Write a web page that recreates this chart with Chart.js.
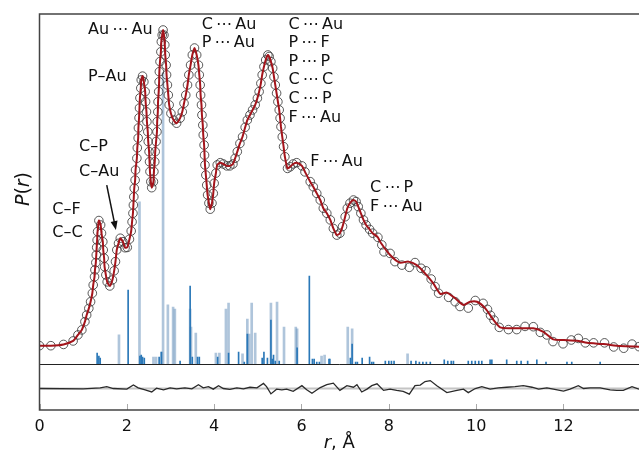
<!DOCTYPE html>
<html lang="en">
<head>
<meta charset="UTF-8" />
<title>P(r)</title>
<script src="https://cdn.jsdelivr.net/npm/chart.js"></script>
<style>
  html, body { margin: 0; padding: 0; background: #fff; }
  #wrap { width: 639px; height: 455px; }
</style>
</head>
<body>
<div id="wrap"><canvas id="pdf"></canvas></div>
<script>
// experimental P(r), circles (r in Å, P in arbitrary units)
const obsR = [0.00,0.26,0.55,0.77,0.88,0.97,1.04,1.08,1.13,1.17,1.21,1.23,1.26,1.27,1.29,1.30,1.31,1.32,1.33,1.36,
  1.40,1.42,1.45,1.46,1.48,1.49,1.52,1.55,1.61,1.67,1.71,1.74,1.77,1.81,1.85,1.91,1.96,2.01,2.06,2.10,
  2.12,2.14,2.15,2.16,2.17,2.19,2.20,2.23,2.24,2.26,2.265,2.28,2.29,2.30,2.32,2.33,2.36,2.39,2.42,2.43,
  2.45,2.46,2.48,2.49,2.51,2.52,2.53,2.55,2.57,2.61,2.62,2.64,2.65,2.67,2.69,2.695,2.71,2.715,2.73,2.74,
  2.745,2.76,2.78,2.79,2.81,2.83,2.85,2.87,2.88,2.90,2.91,2.93,2.95,2.97,3.01,3.07,3.14,3.22,3.27,3.31,
  3.35,3.39,3.42,3.46,3.50,3.55,3.60,3.64,3.66,3.68,3.69,3.71,3.72,3.74,3.75,3.77,3.78,3.79,3.81,3.83,
  3.85,3.88,3.91,3.95,3.98,4.00,4.04,4.07,4.14,4.21,4.29,4.36,4.43,4.48,4.53,4.59,4.65,4.71,4.76,4.82,
  4.88,4.94,4.99,5.03,5.07,5.10,5.14,5.18,5.23,5.26,5.30,5.34,5.37,5.40,5.43,5.46,5.49,5.51,5.53,5.56,
  5.59,5.62,5.68,5.74,5.81,5.89,6.01,6.08,6.20,6.27,6.35,6.43,6.50,6.58,6.66,6.73,6.81,6.88,6.94,7.00,
  7.05,7.11,7.19,7.25,7.30,7.36,7.42,7.48,7.56,7.63,7.75,7.84,7.89,8.03,8.14,8.30,8.47,8.60,8.74,8.85,
  8.97,9.06,9.14,9.37,9.52,9.63,9.82,9.98,10.16,10.26,10.33,10.41,10.53,10.74,10.93,11.12,11.31,11.47,11.62,11.76,
  11.99,12.18,12.34,12.50,12.69,12.94,13.15,13.38,13.57,13.73];
const obsP = [0.1,0.1,0.5,1.6,3.5,5.1,7.7,9.8,11.9,14.0,16.7,19.3,21.9,24.1,26.4,28.8,31.2,33.5,36.2,39.7,
  38.3,35.7,33.0,30.4,27.8,25.1,22.5,20.3,19.0,20.9,23.8,26.7,30.4,32.5,34.1,33.0,31.1,31.2,33.8,36.4,
  39.3,42.0,44.6,47.2,49.9,52.5,55.7,59.4,62.7,65.8,69.0,72.2,75.3,78.5,81.6,84.2,85.4,83.6,80.5,77.3,
  74.1,71.0,67.8,64.7,61.5,58.3,55.2,52.0,50.1,52.0,55.2,58.3,61.5,64.7,67.8,71.0,74.1,77.3,80.5,83.6,
  86.8,90.0,93.1,96.3,98.4,100.0,98.4,95.3,92.1,88.9,85.8,82.6,79.4,76.3,73.6,71.5,70.5,72.1,74.1,76.8,
  79.4,82.6,85.8,88.9,92.1,94.3,92.1,88.9,85.8,82.6,79.4,76.3,73.1,69.9,66.8,63.6,60.4,57.3,54.1,50.9,
  47.8,45.2,43.3,45.2,48.3,51.5,54.7,57.3,58.0,57.6,57.0,57.0,57.6,59.4,61.5,64.1,66.2,69.2,71.5,73.1,
  74.7,76.3,78.4,80.5,83.1,85.8,88.4,90.5,92.1,91.6,90.0,87.9,85.2,82.6,80.0,77.3,74.7,72.1,69.4,66.2,
  63.1,59.9,56.2,56.7,57.6,58.0,57.0,55.1,52.0,50.4,48.3,46.2,43.6,42.0,39.9,37.2,35.1,35.7,37.8,40.9,
  43.6,45.2,46.2,45.7,44.1,42.0,39.9,38.3,36.9,35.7,34.4,32.0,29.8,29.3,26.7,25.6,24.9,26.4,24.6,23.8,
  21.2,18.8,16.7,15.4,14.0,12.5,12.0,14.4,13.5,11.6,9.7,8.2,5.9,5.2,5.2,6.2,6.1,4.3,3.5,1.4,
  0.7,1.9,2.4,1.0,1.0,1.0,-0.3,-0.7,0.6,-0.2];

// fitted curve past 7.8 Å (below that it runs through the data points)
const fitTailR = [7.80,8.03,8.25,8.45,8.64,8.83,9.02,9.18,9.33,9.52,9.71,9.86,10.02,10.21,10.40,10.55,10.78,11.01,11.31,11.54,
  11.77,12.00,12.31,12.54,12.92,13.30,13.73];
const fitTailP = [33.0,28.8,26.4,26.7,25.6,23.0,19.8,16.5,16.9,15.1,13.0,14.0,14.0,11.9,8.2,5.9,5.6,5.6,5.6,4.5,
  2.1,1.9,1.7,1.0,0.6,0.0,-0.2];

// difference curve (data - fit)
const diffR = [0.00,1.00,1.39,1.54,1.69,2.00,2.15,2.26,2.42,2.57,2.68,2.84,2.99,3.14,3.33,3.49,3.64,3.75,3.87,3.98,
  4.10,4.21,4.36,4.52,4.67,4.82,4.98,5.13,5.20,5.30,5.43,5.55,5.66,5.81,6.01,6.12,6.24,6.43,6.58,6.73,
  6.88,7.04,7.19,7.27,7.38,7.50,7.61,7.73,7.88,8.03,8.18,8.33,8.47,8.60,8.72,8.83,8.95,9.10,9.33,9.56,
  9.71,9.82,9.98,10.13,10.32,10.51,10.70,10.89,11.08,11.28,11.43,11.62,11.77,12.00,12.15,12.34,12.46,12.61,12.84,13.07,
  13.22,13.37,13.57,13.73];
const diffD = [0,-0.1,0.2,0.6,0,-0.2,1.1,0.2,-0.4,-1.1,0.1,-0.4,0.2,-0.1,0.2,-0.1,1.2,0.2,0.6,-0.2,
  0.9,0,-0.3,0.2,-0.1,0.4,0.2,1.6,0.6,-1.7,-0.2,-0.4,-0.2,-0.9,0.9,-0.4,-1.5,0.3,1.2,1.7,
  -0.6,0.9,0.4,1.2,-1.1,-0.2,0.9,1.5,-0.6,-0.2,-0.6,-0.9,-1.8,0.9,1.1,2.2,2.5,0.9,-1.3,-0.6,
  -0.2,-1.3,0,0.6,-0.2,0.2,0.4,0.6,0.9,0.4,-0.2,0.2,-0.2,-0.8,-0.2,0.9,0,0.2,0.2,-0.4,
  -0.6,-0.6,0.6,-0.2];

// interatomic distance sticks
const lightR = [1.82,2.29,2.61,2.67,2.80,2.83,2.94,3.06,3.10,3.45,3.47,3.58,4.04,4.12,4.27,4.33,4.65,4.76,4.80,4.86,
  4.94,5.30,5.44,5.60,5.87,5.90,6.46,6.53,7.06,7.16,8.43];
const lightH = [9.2,51.3,2.2,2.2,3.8,92.1,18.7,18.0,17.4,17.4,11.7,9.8,3.5,3.5,17.4,19.3,3.2,14.2,9.5,19.3,
  9.8,19.3,19.6,11.7,11.7,11.1,2.5,2.8,11.7,11.1,3.2];
const darkR = [1.32,1.36,1.39,2.03,2.30,2.33,2.36,2.40,2.74,2.79,3.22,3.45,3.50,3.62,3.66,4.08,4.33,4.56,4.69,4.76,
  5.10,5.14,5.22,5.30,5.33,5.36,5.40,5.49,5.90,6.18,6.25,6.29,6.35,6.41,6.63,6.65,7.12,7.16,7.24,7.28,
  7.39,7.56,7.61,7.65,7.92,8.00,8.06,8.12,8.51,8.62,8.70,8.78,8.86,8.95,9.27,9.35,9.43,9.48,9.82,9.90,
  9.98,10.06,10.13,10.32,10.36,10.70,10.93,11.03,11.18,11.39,11.60,12.08,12.19,12.84];
const darkH = [3.5,2.5,1.9,23.4,2.5,2.8,2.2,1.9,2.2,3.8,0.9,24.7,2.2,2.2,2.2,2.2,3.5,3.8,0.6,9.5,
  1.9,3.8,1.9,13.9,1.6,2.8,0.9,0.9,5.1,27.8,1.6,1.6,0.6,0.6,1.6,1.6,1.9,6.3,0.6,0.6,
  1.9,2.2,0.6,0.6,0.9,0.9,0.9,0.9,0.9,0.9,0.6,0.6,0.6,0.6,1.3,0.9,0.9,0.9,0.9,0.9,
  0.9,0.9,0.9,1.3,1.3,1.3,0.9,0.9,0.9,1.3,0.6,0.6,0.6,0.6];

const xTicks = [0, 2, 4, 6, 8, 10, 12];
const R_MAX = 13.73;
const SEP = -5.7; // value on the main scale where the difference panel starts

const FONT = '"DejaVu Sans", "Liberation Sans", sans-serif';

// peak assignments: text, left edge r, vertical centre P
const notes = [
  ['Au\u2009\u22EF\u2009Au', 1.11, 100.0],
  ['P\u2013Au', 1.11, 85.1],
  ['C\u2013P', 0.905, 63.0],
  ['C\u2013Au', 0.905, 55.1],
  ['C\u2013F', 0.293, 43.0],
  ['C\u2013C', 0.293, 35.8],
  ['C\u2009\u22EF\u2009Au', 3.716, 101.6],
  ['P\u2009\u22EF\u2009Au', 3.716, 95.8],
  ['C\u2009\u22EF\u2009Au', 5.70, 101.6],
  ['P\u2009\u22EF\u2009F', 5.70, 95.8],
  ['P\u2009\u22EF\u2009P', 5.70, 90.0],
  ['C\u2009\u22EF\u2009C', 5.70, 84.2],
  ['C\u2009\u22EF\u2009P', 5.70, 78.1],
  ['F\u2009\u22EF\u2009Au', 5.70, 72.1],
  ['F\u2009\u22EF\u2009Au', 6.20, 58.3],
  ['C\u2009\u22EF\u2009P', 7.57, 49.9],
  ['F\u2009\u22EF\u2009Au', 7.57, 44.1]
];

const zip = (xs, ys) => xs.map((v, i) => ({ x: v, y: ys[i] }));
const sticks = (xs, hs) => xs.map((v, i) => ({ x: v, y: [SEP, SEP + hs[i]] }));

const fitPts = zip(obsR, obsP).filter(p => p.x < 7.78).concat(zip(fitTailR, fitTailP));

function mixedText(ctx, parts, cx, cy, size) {
  const fonts = parts.map(p => (p[1] ? 'italic ' : '') + size + 'px ' + FONT);
  let w = 0;
  parts.forEach((p, i) => { ctx.font = fonts[i]; w += ctx.measureText(p[0]).width; });
  let x = cx - w / 2;
  ctx.textAlign = 'left';
  ctx.textBaseline = 'middle';
  parts.forEach((p, i) => { ctx.font = fonts[i]; ctx.fillText(p[0], x, cy); x += ctx.measureText(p[0]).width; });
}

const frame = {
  id: 'frame',
  afterDatasetsDraw(chart) {
    const { ctx, chartArea: a, scales: { x, y } } = chart;
    ctx.save();
    // panel divider
    const ys = Math.round(y.getPixelForValue(SEP)) + 0.5;
    ctx.strokeStyle = '#222';
    ctx.lineWidth = 1;
    ctx.beginPath(); ctx.moveTo(a.left, ys); ctx.lineTo(a.right, ys); ctx.stroke();
    // inward ticks on the bottom axis
    ctx.strokeStyle = '#aaa';
    xTicks.forEach(t => {
      const px = Math.round(x.getPixelForValue(t)) + 0.5;
      ctx.beginPath(); ctx.moveTo(px, a.bottom); ctx.lineTo(px, a.bottom - 6); ctx.stroke();
    });
    // box
    ctx.strokeStyle = '#444';
    ctx.lineWidth = 1.5;
    ctx.beginPath();
    ctx.moveTo(a.right, a.top); ctx.lineTo(a.left, a.top);
    ctx.lineTo(a.left, a.bottom); ctx.lineTo(a.right, a.bottom);
    ctx.stroke();
    ctx.restore();
  },
  afterDraw(chart) {
    const { ctx, chartArea: a, scales: { x, y } } = chart;
    ctx.save();
    ctx.fillStyle = '#111';
    ctx.font = '16px ' + FONT;
    ctx.textAlign = 'left';
    ctx.textBaseline = 'middle';
    notes.forEach(([t, r, p]) => ctx.fillText(t, x.getPixelForValue(r), y.getPixelForValue(p)));

    // arrow to the C–P / C–Au shoulder
    const x0 = x.getPixelForValue(1.54), y0 = y.getPixelForValue(50.9);
    const x1 = x.getPixelForValue(1.75), y1 = y.getPixelForValue(36.7);
    const ang = Math.atan2(y1 - y0, x1 - x0);
    ctx.strokeStyle = '#111';
    ctx.lineWidth = 1.5;
    ctx.beginPath();
    ctx.moveTo(x0, y0);
    ctx.lineTo(x1 - 6 * Math.cos(ang), y1 - 6 * Math.sin(ang));
    ctx.stroke();
    ctx.beginPath();
    ctx.moveTo(x1, y1);
    ctx.lineTo(x1 - 9 * Math.cos(ang) + 3.5 * Math.sin(ang), y1 - 9 * Math.sin(ang) - 3.5 * Math.cos(ang));
    ctx.lineTo(x1 - 9 * Math.cos(ang) - 3.5 * Math.sin(ang), y1 - 9 * Math.sin(ang) + 3.5 * Math.cos(ang));
    ctx.closePath();
    ctx.fill();

    // axis titles
    mixedText(ctx, [['r', true], [', \u00C5', false]], (a.left + a.right) / 2, 443, 18);
    ctx.translate(24, (a.top + y.getPixelForValue(SEP)) / 2);
    ctx.rotate(-Math.PI / 2);
    mixedText(ctx, [['P', true], ['(', false], ['r', true], [')', false]], 0, 0, 19);
    ctx.restore();
  }
};

new Chart(document.getElementById('pdf'), {
  type: 'line',
  data: {
    datasets: [
      {
        label: 'fit',
        data: fitPts,
        borderColor: '#a3141b',
        borderWidth: 2,
        pointRadius: 0,
        tension: 0.2,
        yAxisID: 'y',
        order: 0
      },
      {
        label: 'data',
        data: zip(obsR, obsP),
        showLine: false,
        pointRadius: 4.3,
        pointStyle: 'circle',
        pointBorderColor: 'rgba(60,60,60,0.85)',
        pointBackgroundColor: 'rgba(255,255,255,0)',
        pointBorderWidth: 1,
        yAxisID: 'y',
        order: 1
      },
      {
        label: 'difference',
        data: zip(diffR, diffD),
        borderColor: '#2a2a2a',
        borderWidth: 1.3,
        pointRadius: 0,
        tension: 0,
        yAxisID: 'yd',
        order: 2
      },
      {
        label: 'zero',
        data: [{ x: 0, y: 0 }, { x: R_MAX, y: 0 }],
        borderColor: '#c4c4c4',
        borderWidth: 2,
        pointRadius: 0,
        yAxisID: 'yd',
        order: 3
      },
      {
        type: 'bar',
        label: 'dark sticks',
        data: sticks(darkR, darkH),
        backgroundColor: '#2a78b8',
        barThickness: 1,
        grouped: false,
        yAxisID: 'y',
        order: 4
      },
      {
        type: 'bar',
        label: 'light sticks',
        data: sticks(lightR, lightH),
        backgroundColor: 'rgba(110,150,190,0.55)',
        barThickness: 2,
        grouped: false,
        yAxisID: 'y',
        order: 5
      }
    ]
  },
  options: {
    responsive: true,
    maintainAspectRatio: false,
    animation: false,
    layout: { autoPadding: false, padding: { left: 39.5, right: 0, top: 14, bottom: 0 } },
    plugins: { legend: { display: false }, tooltip: { enabled: false } },
    scales: {
      x: {
        type: 'linear',
        min: 0,
        max: R_MAX,
        offset: false,
        afterFit(s) { s.height = 45; },
        afterBuildTicks(s) { s.ticks = xTicks.map(v => ({ value: v })); },
        grid: { display: false, drawTicks: false },
        border: { display: false },
        ticks: {
          font: { family: FONT, size: 16 },
          color: '#111',
          padding: 7,
          maxRotation: 0,
          autoSkip: false,
          includeBounds: false
        }
      },
      y: { display: false, min: -20.25, max: 105.06 },
      yd: { display: false, min: -6.8, max: 118.5 }
    }
  },
  plugins: [frame]
});
</script>
</body>
</html>
